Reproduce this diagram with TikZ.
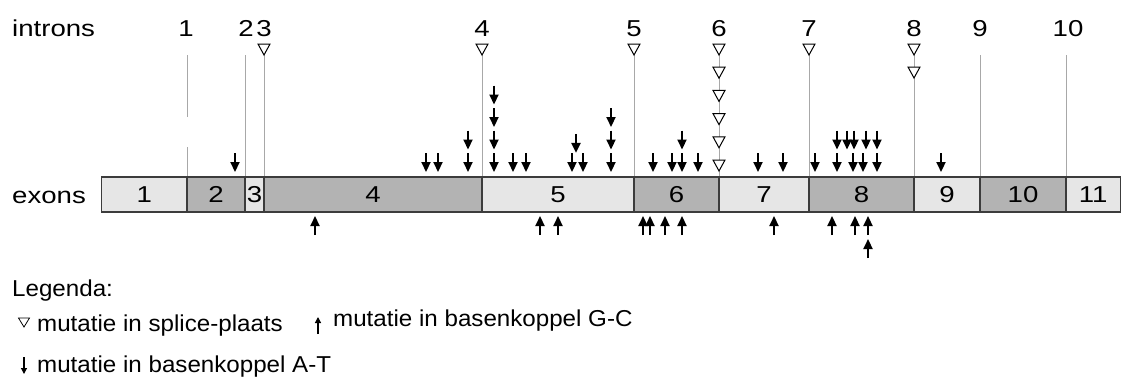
\documentclass[tikz,border=0pt]{standalone}
\usepackage{fontspec}
\setmainfont{Liberation Sans}[FakeStretch=1.05]
\newfontfamily\widefont{Liberation Sans}[FakeStretch=1.2]
\usetikzlibrary{arrows.meta}
\usetikzlibrary{positioning}

\definecolor{exonlight}{HTML}{E6E6E6}
\definecolor{exondark}{HTML}{B3B3B3}
\definecolor{intronline}{HTML}{A8A8A8}
\definecolor{barline}{HTML}{3C3C3C}

\tikzset{
  splice/.pic={\path[splice mark] (-6,0) -- (6,0) -- (0,11) -- cycle;},
  splice small/.pic={\path[splice mark,line width=0.8pt] (-5.5,0) -- (5.5,0) -- (0,9) -- cycle;}
}

\begin{document}
\begin{tikzpicture}[x=1pt,y=-1pt,
  big text/.style={font=\widefont\fontsize{23}{27}\selectfont,inner sep=0pt},
  key text/.style={font=\fontsize{23}{27}\selectfont,inner sep=0pt},
  exon/.style={draw=barline,line width=1.2pt},
  intron/.style={draw=intronline,line width=1pt},
  splice mark/.style={draw=black,fill=white,line width=1pt},
  at mut/.style={-{Triangle[length=10pt,width=9pt]},line width=2.2pt},
  gc mut/.style={-{Triangle[length=10pt,width=9pt]},line width=2.2pt},
  key mut/.style={-{Triangle[length=6pt,width=6pt]},line width=1.2pt}]

  \useasboundingbox (0,0) rectangle (1122,383);

  \node[big text,anchor=base west] (introns) at (12,36) {introns};
  \node[big text,anchor=base west] (exons) at (12,203) {exons};

  % intron numbers
  \foreach \n/\x in {1/186,2/246,3/264,4/482,5/634,6/719,7/809,8/914,9/980,10/1068}
    \node[big text,anchor=base] (i\n) at (\x,36) {\n};

  % intron lines
  \draw[intron] (187,55) -- (187,117) (187,147) -- (187,177);
  \foreach \x in {245,980,1066}
    \draw[intron] (\x,55) -- (\x,177);
  \foreach \x in {264,482,634,719,809,914}
    \draw[intron] (\x,44) -- (\x,177);

  % splice site mutations
  \foreach \x in {264,482,634,719,809,914}
    \pic at (\x,44) {splice};
  \foreach \k in {1,...,5}
    \pic at (719,{44+23.2*\k}) {splice};
  \pic at (914,67) {splice};

  % exons
  \foreach \n/\l/\r/\c in {1/101.5/187/exonlight,2/187/245/exondark,3/245/264/exonlight,
      4/264/482/exondark,5/482/634/exonlight,6/634/719/exondark,7/719/809/exonlight,
      8/809/914/exondark,9/914/980/exonlight,10/980/1066/exondark,11/1066/1120.5/exonlight}{
    \draw[exon,fill=\c] (\l,177) rectangle (\r,212);
    \node[big text] (e\n) at ({(\l+\r)/2},194.5) {\n};
  }

  % A-T mutations (above)
  \foreach \x/\k in {235/0,426/0,438/0,468/0,468/1,494/0,494/1,494/2,494/3,513/0,526/0,
      572/0,583/0,576/0.85,611/0,611/1,611/2,653/0,672/0,682/0,682/1,698/0,
      758/0,783/0,815/0,837/0,853/0,863/0,877/0,837/1,847/1,854/1,866/1,877/1,941/0}
    \draw[at mut] (\x,{153-22.5*\k}) -- (\x,{172-22.5*\k});

  % G-C mutations (below)
  \foreach \x/\k in {315/0,540/0,558/0,643/0,650/0,665/0,682/0,774/0,832/0,855/0,868/0,868/1}
    \draw[gc mut] (\x,{235+23*\k}) -- (\x,{216+23*\k});

  % legend
  \node[key text,anchor=base west] (legenda) at (12,296) {Legenda:};
  \pic at (24,318) {splice small};
  \node[key text,anchor=base west] (splice txt) at (37,331) {mutatie in splice-plaats};
  \draw[key mut] (24,357) -- (24,374);
  \node[key text,anchor=base west] (at txt) at (37,372) {mutatie in basenkoppel A-T};
  \draw[key mut] (318,334) -- (318,317);
  \node[key text,anchor=base west] (gc txt) at (333,326) {mutatie in basenkoppel G-C};

\end{tikzpicture}
\end{document}
